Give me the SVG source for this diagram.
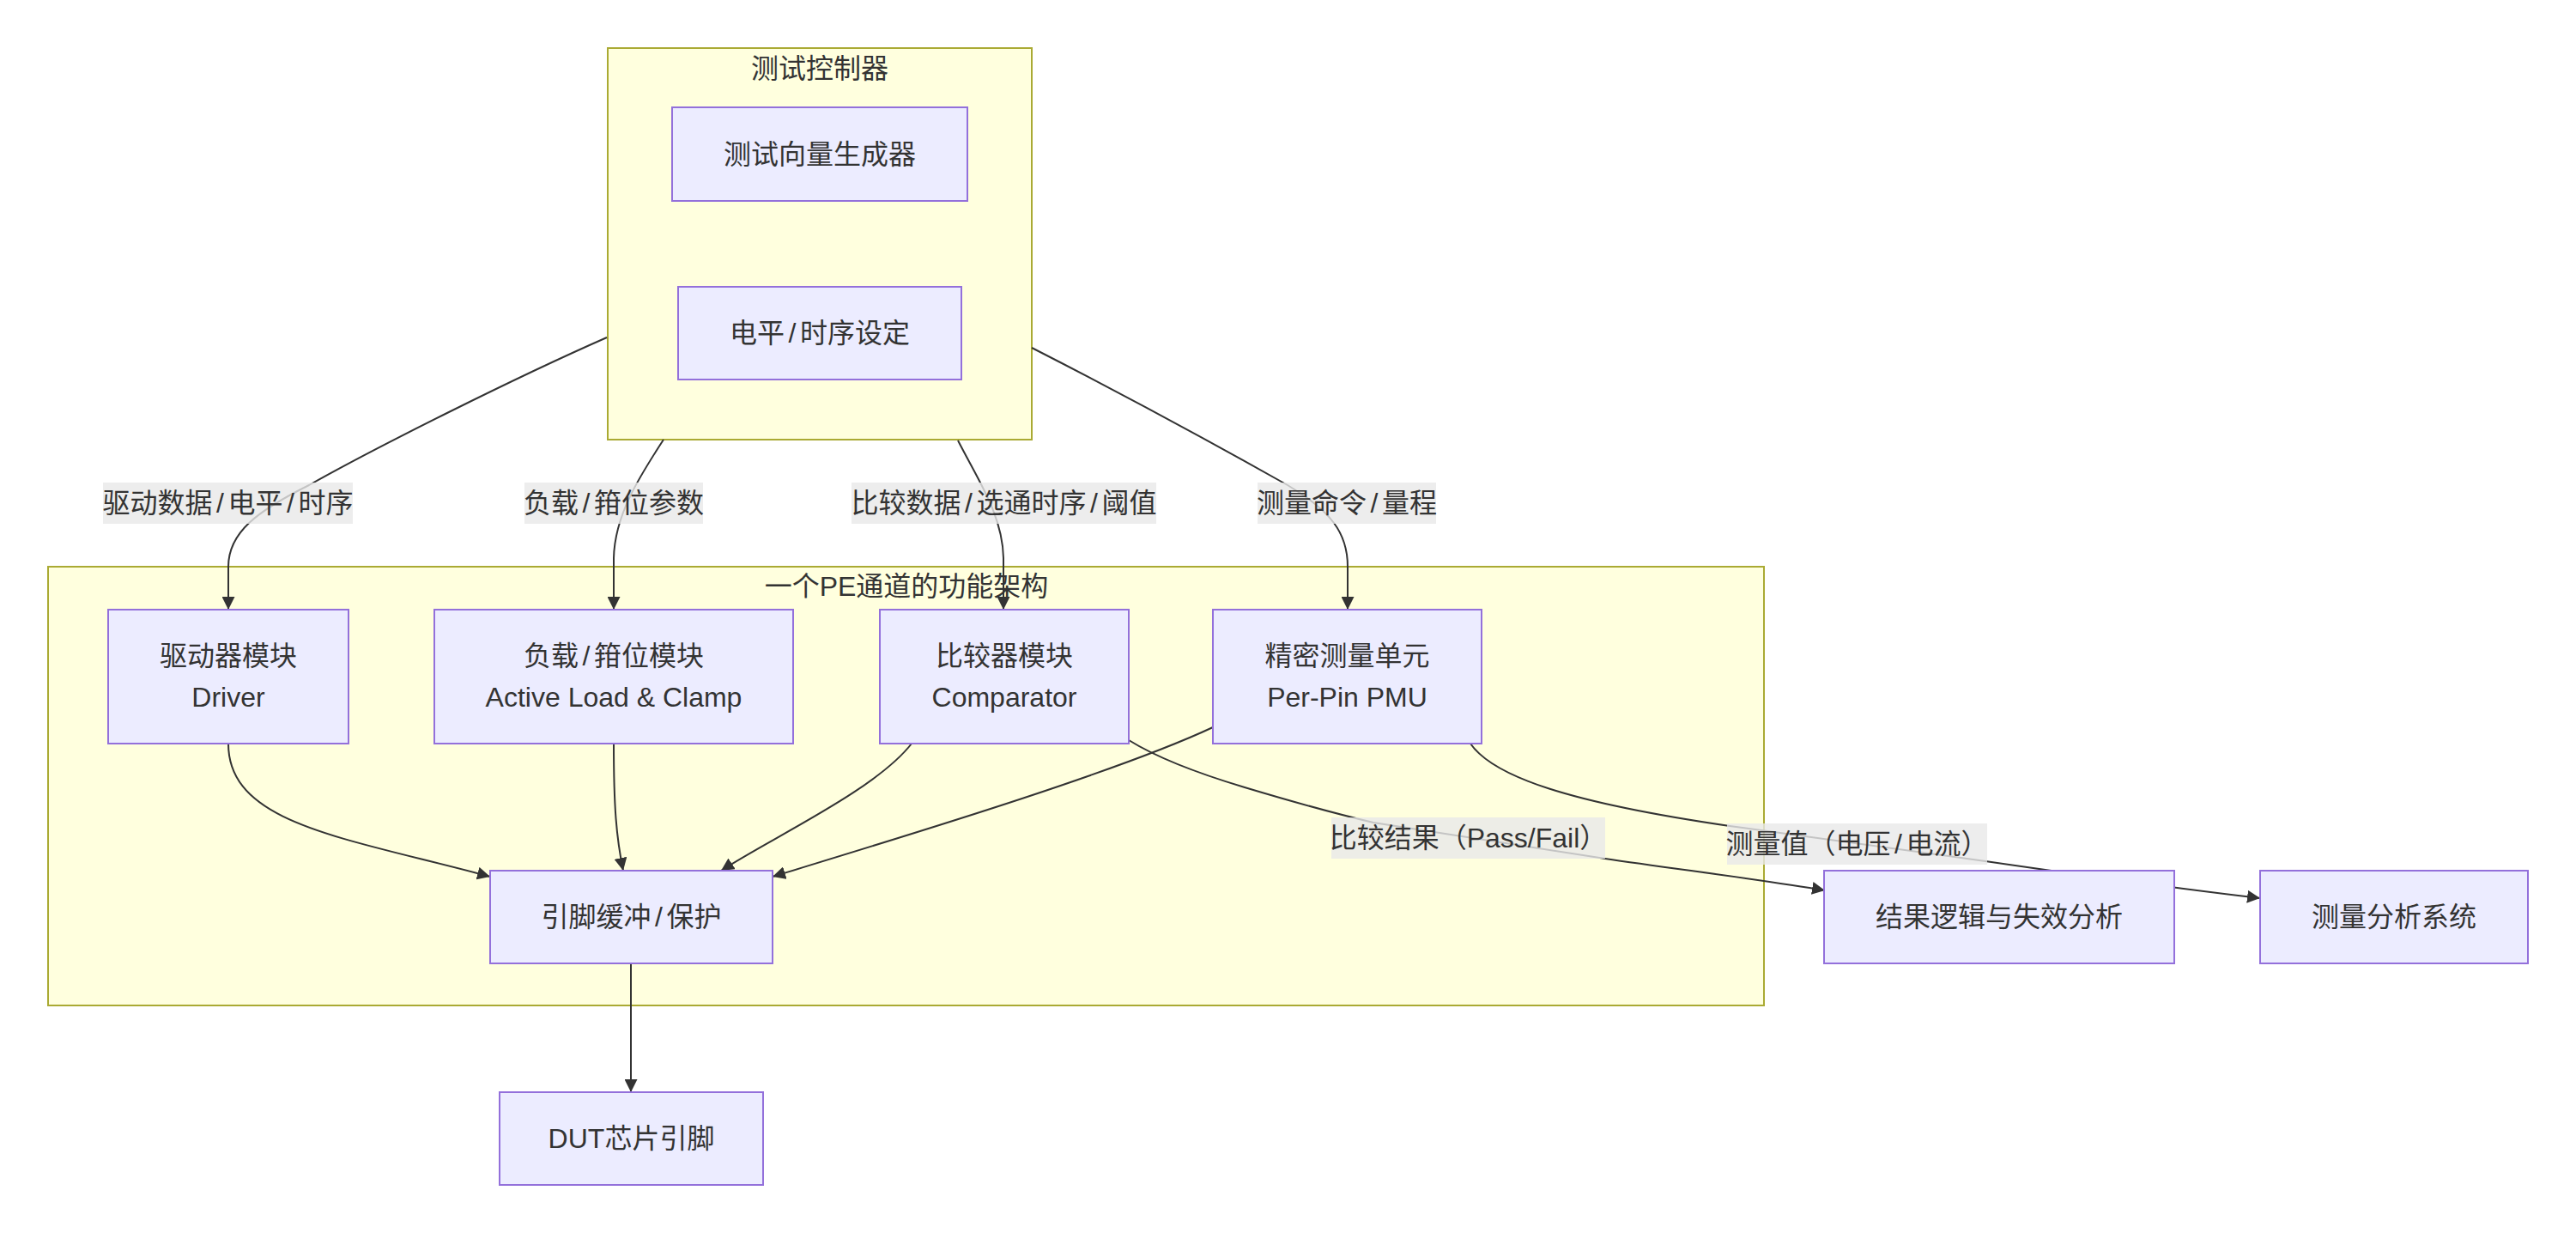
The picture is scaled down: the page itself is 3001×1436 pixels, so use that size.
<svg xmlns="http://www.w3.org/2000/svg" width="3001" height="1436" viewBox="0 0 3001 1436">
<style>
  text { font-family: "Liberation Sans", "Noto Sans CJK SC", sans-serif; font-size: 32px; fill: #333333; text-anchor: middle; }
  .cluster rect { fill: #ffffde; stroke: #aaaa33; stroke-width: 2; }
  .node rect { fill: #ececff; stroke: #9370db; stroke-width: 2; }
  .edge { fill: none; stroke: #333333; stroke-width: 2; }
  .lbl rect { fill: #e8e8e8; fill-opacity: 0.8; }
</style>
<defs>
  <marker id="arrow" viewBox="0 0 10 10" refX="10" refY="5" markerUnits="userSpaceOnUse" markerWidth="15" markerHeight="15" orient="auto">
    <path d="M0,0 L10,5 L0,10 z" fill="#333333"/>
  </marker>
</defs>
<rect width="3001" height="1436" fill="#ffffff"/>

<g id="cluster-controller" class="cluster">
  <rect x="708" y="56" width="494" height="456"/>
  <text x="955" y="91">测试控制器</text>
</g>
<g id="cluster-pe" class="cluster">
  <rect x="56" y="660" width="1999" height="511"/>
  <text x="1056" y="694">一个PE通道的功能架构</text>
</g>

<g id="connectors">
  <path class="edge" marker-end="url(#arrow)" d="M707,393 C600,440 440,520 360,565 C300,595 266,620 266,660 L266,710"/>
  <path class="edge" marker-end="url(#arrow)" d="M773,512 C745,555 716,600 715,650 L715,710"/>
  <path class="edge" marker-end="url(#arrow)" d="M1116,513 C1140,560 1168,600 1169,650 L1169,710"/>
  <path class="edge" marker-end="url(#arrow)" d="M1202,405 C1300,455 1420,520 1500,565 C1550,595 1570,620 1570,660 L1570,710"/>
  <path class="edge" marker-end="url(#arrow)" d="M266,866 C266,960 400,975 571,1021"/>
  <path class="edge" marker-end="url(#arrow)" d="M715,866 C715,940 718,975 726,1014"/>
  <path class="edge" marker-end="url(#arrow)" d="M1062,866 C1020,920 900,975 840,1014"/>
  <path class="edge" marker-end="url(#arrow)" d="M1413,847 C1300,900 1050,975 900,1021"/>
  <path class="edge" marker-end="url(#arrow)" d="M1315,862 Q1360,890 1450,917 Q1540,944 1600,958 L1870,1000 C1950,1012 2050,1024 2126,1037"/>
  <path class="edge" marker-end="url(#arrow)" d="M1713,866 C1740,905 1830,935 2015,962 L2313,1003 C2430,1020 2540,1035 2633,1046"/>
  <path class="edge" marker-end="url(#arrow)" d="M735,1122 L735,1272"/>
</g>

<g id="edge-labels">
  <g class="lbl"><rect x="120" y="562" width="291" height="48"/><text x="265.5" y="597">驱动数据<tspan dx="4.5">/</tspan><tspan dx="4.5">电平</tspan><tspan dx="4.5">/</tspan><tspan dx="4.5">时序</tspan></text></g>
  <g class="lbl"><rect x="611" y="562" width="208" height="48"/><text x="715" y="597">负载<tspan dx="4.5">/</tspan><tspan dx="4.5">箝位参数</tspan></text></g>
  <g class="lbl"><rect x="992" y="562" width="355" height="48"/><text x="1169.5" y="597">比较数据<tspan dx="4.5">/</tspan><tspan dx="4.5">选通时序</tspan><tspan dx="4.5">/</tspan><tspan dx="4.5">阈值</tspan></text></g>
  <g class="lbl"><rect x="1465" y="562" width="208" height="48"/><text x="1569" y="597">测量命令<tspan dx="4.5">/</tspan><tspan dx="4.5">量程</tspan></text></g>
  <g class="lbl"><rect x="1551" y="952" width="319" height="48"/><text x="1710.5" y="987">比较结果（Pass/Fail）</text></g>
  <g class="lbl"><rect x="2012" y="959" width="303" height="48"/><text x="2163.5" y="994">测量值（电压<tspan dx="4.5">/</tspan><tspan dx="4.5">电流）</tspan></text></g>
</g>

<g id="node-vector" class="node">
  <rect x="783" y="125" width="344" height="109"/>
  <text x="955" y="191">测试向量生成器</text>
</g>
<g id="node-level" class="node">
  <rect x="790" y="334" width="330" height="108"/>
  <text x="955" y="399">电平<tspan dx="4.5">/</tspan><tspan dx="4.5">时序设定</tspan></text>
</g>
<g id="node-driver" class="node">
  <rect x="126" y="710" width="280" height="156"/>
  <text x="266" y="775">驱动器模块</text>
  <text x="266" y="823">Driver</text>
</g>
<g id="node-load" class="node">
  <rect x="506" y="710" width="418" height="156"/>
  <text x="715" y="775">负载<tspan dx="4.5">/</tspan><tspan dx="4.5">箝位模块</tspan></text>
  <text x="715" y="823">Active Load &amp; Clamp</text>
</g>
<g id="node-comparator" class="node">
  <rect x="1025" y="710" width="290" height="156"/>
  <text x="1170" y="775">比较器模块</text>
  <text x="1170" y="823">Comparator</text>
</g>
<g id="node-pmu" class="node">
  <rect x="1413" y="710" width="313" height="156"/>
  <text x="1569.5" y="775">精密测量单元</text>
  <text x="1569.5" y="823">Per-Pin PMU</text>
</g>
<g id="node-buffer" class="node">
  <rect x="571" y="1014" width="329" height="108"/>
  <text x="735.5" y="1079">引脚缓冲<tspan dx="4.5">/</tspan><tspan dx="4.5">保护</tspan></text>
</g>
<g id="node-dut" class="node">
  <rect x="582" y="1272" width="307" height="108"/>
  <text x="735.5" y="1337">DUT芯片引脚</text>
</g>
<g id="node-result" class="node">
  <rect x="2125" y="1014" width="408" height="108"/>
  <text x="2329" y="1079">结果逻辑与失效分析</text>
</g>
<g id="node-analysis" class="node">
  <rect x="2633" y="1014" width="312" height="108"/>
  <text x="2789" y="1079">测量分析系统</text>
</g>
</svg>
